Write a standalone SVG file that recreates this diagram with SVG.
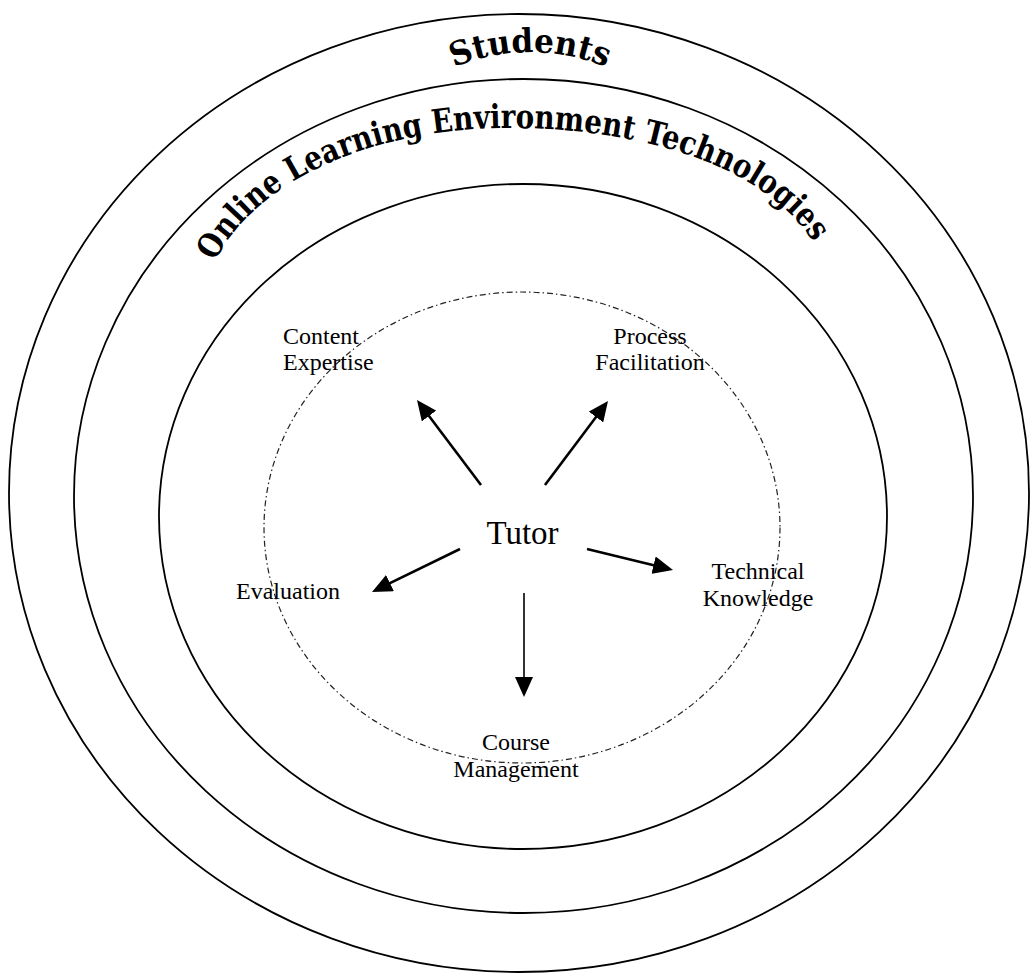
<svg xmlns="http://www.w3.org/2000/svg" width="1031" height="973" viewBox="0 0 1031 973">
<style>
.ring{fill:none;stroke:#000;stroke-width:1.8}
.dash{fill:none;stroke:#222;stroke-width:1.2;stroke-dasharray:6 3 1.5 3}
.lbl{font-family:"Liberation Serif","Times New Roman",serif;font-size:24px;fill:#000}
.mid{text-anchor:middle}
.arch{font-family:"DejaVu Serif","Liberation Serif",serif;font-weight:bold;fill:#000}
.arr{fill:none;stroke:#000;stroke-width:2.6}
.arr.thin{stroke-width:1.6}
</style>
<defs>
<marker id="ah" viewBox="0 0 20 18" markerWidth="20" markerHeight="18" refX="16" refY="9" orient="auto" markerUnits="userSpaceOnUse">
<path d="M0,0 L20,9 L0,18 z" fill="#000"/>
</marker>
<path id="studentsArc" d="M430,79 A200,200 0 0 1 630,79"/>
<path id="oletArc" d="M212,268 C250,182 370,128 510,128 C640,128 770,165 818,250"/>
</defs>
<g id="rings">
<ellipse id="students-ring" class="ring" cx="519" cy="493" rx="510" ry="479"/>
<ellipse id="olet-ring" class="ring" cx="523.5" cy="496" rx="449.5" ry="417"/>
<ellipse id="inner-ring" class="ring" cx="523" cy="516.5" rx="364" ry="332.5"/>
<ellipse id="tutor-zone" class="dash" cx="522" cy="527.5" rx="258" ry="235.5"/>
</g>
<g id="students-label">
<text class="arch" font-size="33"><textPath href="#studentsArc" startOffset="50%" text-anchor="middle" textLength="156" lengthAdjust="spacingAndGlyphs">Students</textPath></text>
</g>
<g id="olet-label">
<text class="arch" font-size="33"><textPath href="#oletArc" startOffset="7" textLength="676" lengthAdjust="spacingAndGlyphs">Online Learning Environment Technologies</textPath></text>
</g>
<g id="connectors">
<path class="arr" d="M481,485 L419.4,403.2" marker-end="url(#ah)"/>
<path class="arr" d="M545,485 L605.6,404.2" marker-end="url(#ah)"/>
<path class="arr" d="M460,549 L375.6,590.2" marker-end="url(#ah)"/>
<path class="arr" d="M587,549 L669.1,569" marker-end="url(#ah)"/>
<path class="arr thin" d="M524,593 L524,693" marker-end="url(#ah)"/>
</g>
<g id="tutor"><text class="lbl mid" x="522.5" y="544" style="font-size:33px">Tutor</text></g>
<g id="content-expertise"><text class="lbl" x="283" y="344">Content</text><text class="lbl" x="283" y="370">Expertise</text></g>
<g id="process-facilitation"><text class="lbl mid" x="650" y="344">Process</text><text class="lbl mid" x="650" y="370">Facilitation</text></g>
<g id="evaluation"><text class="lbl" x="236" y="599">Evaluation</text></g>
<g id="technical-knowledge"><text class="lbl mid" x="758" y="579">Technical</text><text class="lbl mid" x="758" y="606">Knowledge</text></g>
<g id="course-management"><text class="lbl mid" x="516" y="750">Course</text><text class="lbl mid" x="516" y="777">Management</text></g>
</svg>
